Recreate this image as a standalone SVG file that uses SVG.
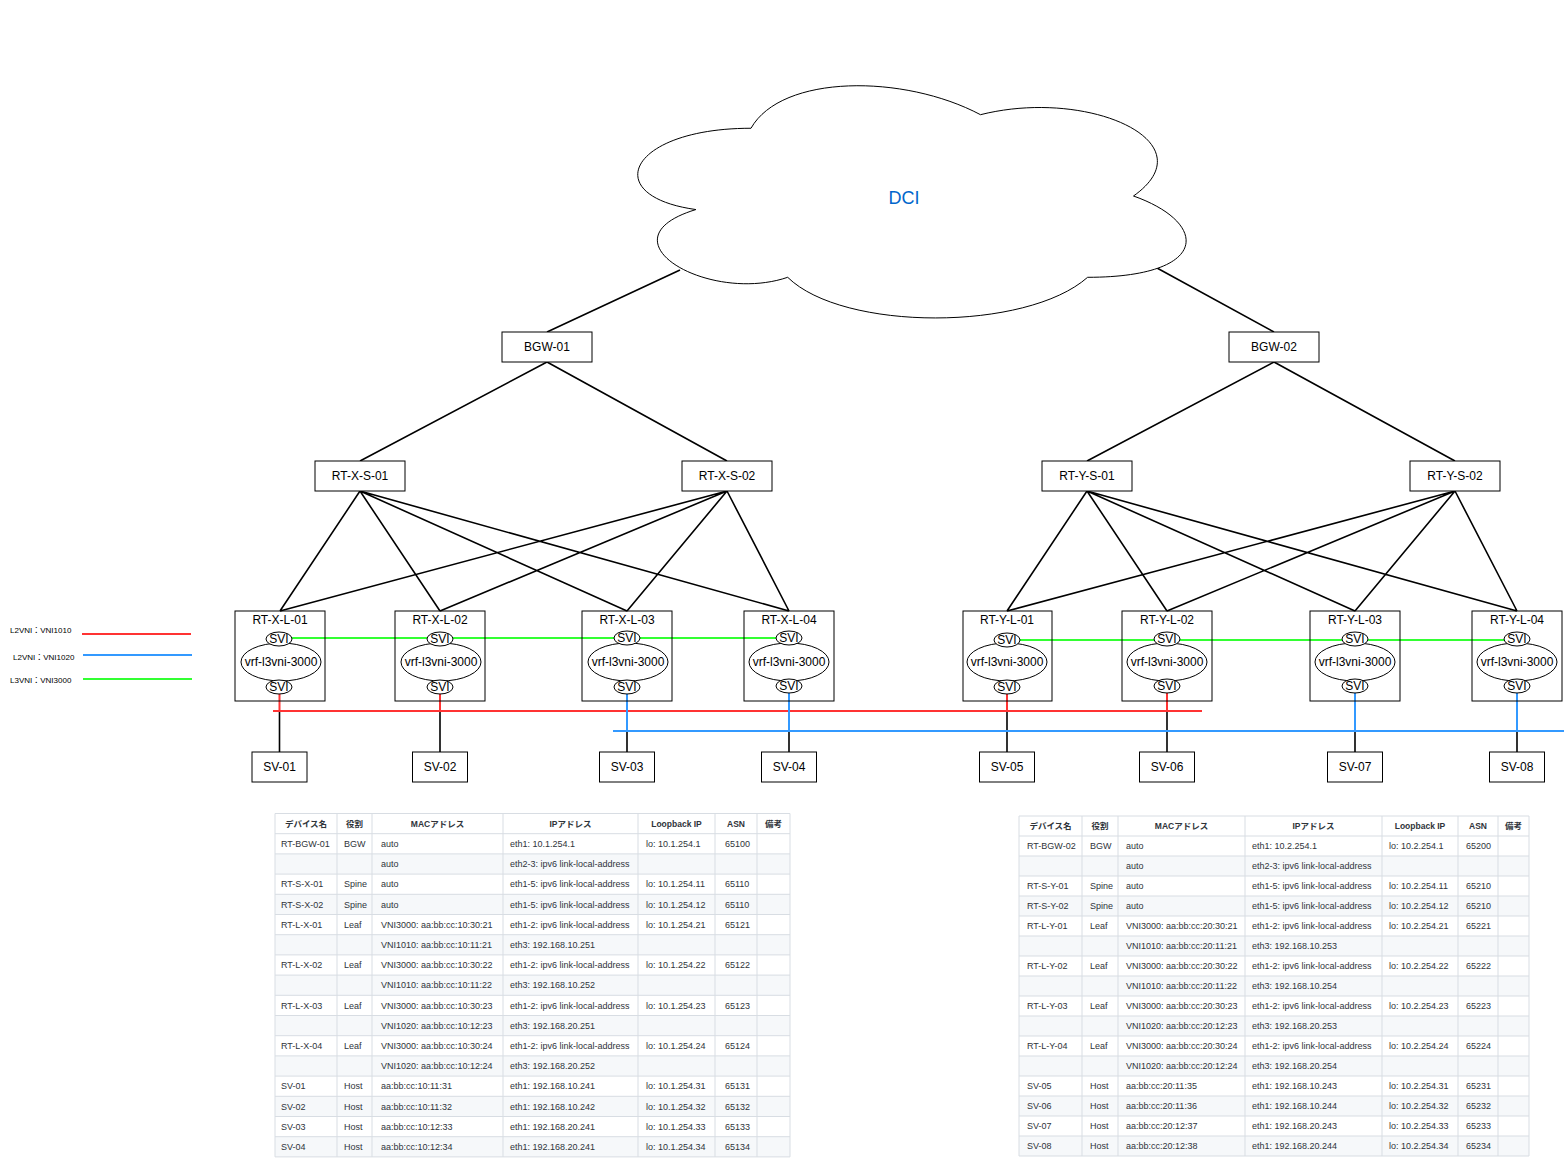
<svg xmlns="http://www.w3.org/2000/svg" width="1564" height="1159" viewBox="0 0 1564 1159">
<style>
text{font-family:"Liberation Sans",Arial,"Noto Sans CJK JP",sans-serif;fill:#000}
.box{fill:#fff;stroke:#000;stroke-width:1}
.leaf{fill:none;stroke:#000;stroke-width:1}
.ell{fill:#fff;stroke:#000;stroke-width:1}
.lbl{font-size:12px;text-anchor:middle}
.edge{stroke:#000;stroke-width:1.6;fill:none}
.red{stroke:#FF3333;stroke-width:2;fill:none}
.blue{stroke:#3399FF;stroke-width:2;fill:none}
.green{stroke:#33FF33;stroke-width:2;fill:none}
.leg{font-size:8px}
.tb text{font-size:9px;fill:#2f343a}
.tb .th{font-weight:bold;text-anchor:middle;font-size:8.5px}
.grid{stroke:#d8dde3;stroke-width:1;fill:none}
.shade{fill:#f6f8fa}
</style>
<rect width="1564" height="1159" fill="#fff"/>

<g id="connectors">
  <path class="edge" d="M680,270 L547,332 M1157,268 L1274,332"/>
  <path class="edge" d="M547,362 L360,461 M547,362 L727,461 M1274,362 L1087,461 M1274,362 L1455,461"/>
  <path class="edge" d="M360,491 L280,611 M360,491 L440,611 M360,491 L627,611 M360,491 L789,611 M727,491 L280,611 M727,491 L440,611 M727,491 L627,611 M727,491 L789,611"/>
  <path class="edge" d="M1087,491 L1007,611 M1087,491 L1167,611 M1087,491 L1355,611 M1087,491 L1517,611 M1455,491 L1007,611 M1455,491 L1167,611 M1455,491 L1355,611 M1455,491 L1517,611"/>
  <path class="green" d="M280,638 L789,638 M1007,640 L1517,640"/>
  <path class="edge" d="M279.5,711 L279.5,752 M440,711 L440,752 M627,731 L627,752 M789,731 L789,752 M1007,711 L1007,752 M1167,711 L1167,752 M1355,731 L1355,752 M1517,731 L1517,752"/>
  <path class="red" d="M279.5,690 L279.5,711 M440,690 L440,711 M1007,690 L1007,711 M1167,690 L1167,711"/>
  <path class="red" d="M273,711 L1202,711"/>
  <path class="blue" d="M627,690 L627,731 M789,690 L789,731 M1355,690 L1355,731 M1517,690 L1517,731"/>
  <path class="blue" d="M613,731 L1564,731"/>
</g>

<g id="dci">
  <path d="M751,128.25 C628.6,128.25 598,196 695.9,209.55 C598,239.4 708.2,304.4 787.7,277.3 C842.8,331.5 1026.4,331.5 1087.6,277.3 C1210,277.3 1210,223.1 1133.5,196 C1210,141.8 1087.6,87.6 980.5,114.7 C904,74.05 781.6,74.05 751,128.25 Z" fill="#fff" stroke="#000" stroke-width="1"/>
  <text x="904" y="204" font-size="18" text-anchor="middle" style="fill:#0066CC">DCI</text>
</g>

<g id="bgw-01"><rect class="box" x="502" y="332" width="90" height="30"/><text class="lbl" x="547" y="351">BGW-01</text></g>
<g id="bgw-02"><rect class="box" x="1229" y="332" width="90" height="30"/><text class="lbl" x="1274" y="351">BGW-02</text></g>

<g id="rt-x-s-01"><rect class="box" x="315" y="461" width="90" height="30"/><text class="lbl" x="360" y="480">RT-X-S-01</text></g>
<g id="rt-x-s-02"><rect class="box" x="682" y="461" width="90" height="30"/><text class="lbl" x="727" y="480">RT-X-S-02</text></g>
<g id="rt-y-s-01"><rect class="box" x="1042" y="461" width="90" height="30"/><text class="lbl" x="1087" y="480">RT-Y-S-01</text></g>
<g id="rt-y-s-02"><rect class="box" x="1410" y="461" width="90" height="30"/><text class="lbl" x="1455" y="480">RT-Y-S-02</text></g>

<g id="rt-x-l-01"><rect class="leaf" x="235" y="611" width="90" height="90"/><text class="lbl" x="280" y="624">RT-X-L-01</text>
  <ellipse class="ell" cx="281" cy="662" rx="40" ry="19"/><text class="lbl" x="281" y="666">vrf-l3vni-3000</text>
  <ellipse class="ell" cx="279" cy="639" rx="13" ry="7"/><text class="lbl" x="279" y="643">SVI</text>
  <ellipse class="ell" cx="279" cy="687" rx="13" ry="7"/><text class="lbl" x="279" y="691">SVI</text></g>
<g id="rt-x-l-02"><rect class="leaf" x="395" y="611" width="90" height="90"/><text class="lbl" x="440" y="624">RT-X-L-02</text>
  <ellipse class="ell" cx="441" cy="662" rx="40" ry="19"/><text class="lbl" x="441" y="666">vrf-l3vni-3000</text>
  <ellipse class="ell" cx="440" cy="639" rx="13" ry="7"/><text class="lbl" x="440" y="643">SVI</text>
  <ellipse class="ell" cx="440" cy="687" rx="13" ry="7"/><text class="lbl" x="440" y="691">SVI</text></g>
<g id="rt-x-l-03"><rect class="leaf" x="582" y="611" width="90" height="90"/><text class="lbl" x="627" y="624">RT-X-L-03</text>
  <ellipse class="ell" cx="628" cy="662" rx="40" ry="19"/><text class="lbl" x="628" y="666">vrf-l3vni-3000</text>
  <ellipse class="ell" cx="627" cy="638" rx="13" ry="7"/><text class="lbl" x="627" y="642">SVI</text>
  <ellipse class="ell" cx="627" cy="687" rx="13" ry="7"/><text class="lbl" x="627" y="691">SVI</text></g>
<g id="rt-x-l-04"><rect class="leaf" x="744" y="611" width="90" height="90"/><text class="lbl" x="789" y="624">RT-X-L-04</text>
  <ellipse class="ell" cx="789" cy="662" rx="40" ry="19"/><text class="lbl" x="789" y="666">vrf-l3vni-3000</text>
  <ellipse class="ell" cx="789" cy="638" rx="13" ry="7"/><text class="lbl" x="789" y="642">SVI</text>
  <ellipse class="ell" cx="789" cy="686" rx="13" ry="7"/><text class="lbl" x="789" y="690">SVI</text></g>
<g id="rt-y-l-01"><rect class="leaf" x="963" y="611" width="89" height="90"/><text class="lbl" x="1007" y="624">RT-Y-L-01</text>
  <ellipse class="ell" cx="1007" cy="662" rx="40" ry="19"/><text class="lbl" x="1007" y="666">vrf-l3vni-3000</text>
  <ellipse class="ell" cx="1007" cy="640" rx="13" ry="7"/><text class="lbl" x="1007" y="644">SVI</text>
  <ellipse class="ell" cx="1007" cy="687" rx="13" ry="7"/><text class="lbl" x="1007" y="691">SVI</text></g>
<g id="rt-y-l-02"><rect class="leaf" x="1122" y="611" width="90" height="90"/><text class="lbl" x="1167" y="624">RT-Y-L-02</text>
  <ellipse class="ell" cx="1167" cy="662" rx="40" ry="19"/><text class="lbl" x="1167" y="666">vrf-l3vni-3000</text>
  <ellipse class="ell" cx="1167" cy="639" rx="13" ry="7"/><text class="lbl" x="1167" y="643">SVI</text>
  <ellipse class="ell" cx="1167" cy="686" rx="13" ry="7"/><text class="lbl" x="1167" y="690">SVI</text></g>
<g id="rt-y-l-03"><rect class="leaf" x="1310" y="611" width="90" height="90"/><text class="lbl" x="1355" y="624">RT-Y-L-03</text>
  <ellipse class="ell" cx="1355" cy="662" rx="40" ry="19"/><text class="lbl" x="1355" y="666">vrf-l3vni-3000</text>
  <ellipse class="ell" cx="1355" cy="639" rx="13" ry="7"/><text class="lbl" x="1355" y="643">SVI</text>
  <ellipse class="ell" cx="1355" cy="686" rx="13" ry="7"/><text class="lbl" x="1355" y="690">SVI</text></g>
<g id="rt-y-l-04"><rect class="leaf" x="1472" y="611" width="90" height="90"/><text class="lbl" x="1517" y="624">RT-Y-L-04</text>
  <ellipse class="ell" cx="1517" cy="662" rx="40" ry="19"/><text class="lbl" x="1517" y="666">vrf-l3vni-3000</text>
  <ellipse class="ell" cx="1517" cy="639" rx="13" ry="7"/><text class="lbl" x="1517" y="643">SVI</text>
  <ellipse class="ell" cx="1517" cy="686" rx="13" ry="7"/><text class="lbl" x="1517" y="690">SVI</text></g>

<g id="sv-01"><rect class="box" x="252" y="752" width="55" height="30"/><text class="lbl" x="279.5" y="771">SV-01</text></g>
<g id="sv-02"><rect class="box" x="412.5" y="752" width="55" height="30"/><text class="lbl" x="440" y="771">SV-02</text></g>
<g id="sv-03"><rect class="box" x="599.5" y="752" width="55" height="30"/><text class="lbl" x="627" y="771">SV-03</text></g>
<g id="sv-04"><rect class="box" x="761.5" y="752" width="55" height="30"/><text class="lbl" x="789" y="771">SV-04</text></g>
<g id="sv-05"><rect class="box" x="979.5" y="752" width="55" height="30"/><text class="lbl" x="1007" y="771">SV-05</text></g>
<g id="sv-06"><rect class="box" x="1139.5" y="752" width="55" height="30"/><text class="lbl" x="1167" y="771">SV-06</text></g>
<g id="sv-07"><rect class="box" x="1327.5" y="752" width="55" height="30"/><text class="lbl" x="1355" y="771">SV-07</text></g>
<g id="sv-08"><rect class="box" x="1489.5" y="752" width="55" height="30"/><text class="lbl" x="1517" y="771">SV-08</text></g>

<g id="legend">
  <text class="leg" x="10" y="633">L2VNI：VNI1010</text>
  <path class="red" d="M82,634 L191,634"/>
  <text class="leg" x="13" y="660">L2VNI：VNI1020</text>
  <path class="blue" d="M83,655 L192,655"/>
  <text class="leg" x="10" y="683">L3VNI：VNI3000</text>
  <path class="green" d="M83,679 L192,679"/>
</g>

<g id="table-x" class="tb">
  <rect class="shade" x="275" y="853.9" width="515" height="20.2"/>
  <rect class="shade" x="275" y="894.3" width="515" height="20.2"/>
  <rect class="shade" x="275" y="934.7" width="515" height="20.2"/>
  <rect class="shade" x="275" y="975.1" width="515" height="20.2"/>
  <rect class="shade" x="275" y="1015.5" width="515" height="20.2"/>
  <rect class="shade" x="275" y="1055.9" width="515" height="20.2"/>
  <rect class="shade" x="275" y="1096.3" width="515" height="20.2"/>
  <rect class="shade" x="275" y="1136.7" width="515" height="20.2"/>
  <path class="grid" d="M275,813.5 H790 M275,833.7 H790 M275,853.9 H790 M275,874.1 H790 M275,894.3 H790 M275,914.5 H790 M275,934.7 H790 M275,954.9 H790 M275,975.1 H790 M275,995.3 H790 M275,1015.5 H790 M275,1035.7 H790 M275,1055.9 H790 M275,1076.1 H790 M275,1096.3 H790 M275,1116.5 H790 M275,1136.7 H790 M275,1156.9 H790 M275,813.5 V1156.9 M337,813.5 V1156.9 M372,813.5 V1156.9 M503,813.5 V1156.9 M638,813.5 V1156.9 M715,813.5 V1156.9 M757,813.5 V1156.9 M790,813.5 V1156.9"/>
  <text class="th" y="826.6"><tspan x="306">デバイス名</tspan><tspan x="354.5">役割</tspan><tspan x="437.5">MACアドレス</tspan><tspan x="570.5">IPアドレス</tspan><tspan x="676.5">Loopback IP</tspan><tspan x="736">ASN</tspan><tspan x="773.5">備考</tspan></text>
  <text y="847"><tspan x="281">RT-BGW-01</tspan><tspan x="344">BGW</tspan><tspan x="381">auto</tspan><tspan x="510">eth1: 10.1.254.1</tspan><tspan x="646">lo: 10.1.254.1</tspan><tspan x="725">65100</tspan></text>
  <text y="867.2"><tspan x="381">auto</tspan><tspan x="510">eth2-3: ipv6 link-local-address</tspan></text>
  <text y="887.4"><tspan x="281">RT-S-X-01</tspan><tspan x="344">Spine</tspan><tspan x="381">auto</tspan><tspan x="510">eth1-5: ipv6 link-local-address</tspan><tspan x="646">lo: 10.1.254.11</tspan><tspan x="725">65110</tspan></text>
  <text y="907.6"><tspan x="281">RT-S-X-02</tspan><tspan x="344">Spine</tspan><tspan x="381">auto</tspan><tspan x="510">eth1-5: ipv6 link-local-address</tspan><tspan x="646">lo: 10.1.254.12</tspan><tspan x="725">65110</tspan></text>
  <text y="927.8"><tspan x="281">RT-L-X-01</tspan><tspan x="344">Leaf</tspan><tspan x="381">VNI3000: aa:bb:cc:10:30:21</tspan><tspan x="510">eth1-2: ipv6 link-local-address</tspan><tspan x="646">lo: 10.1.254.21</tspan><tspan x="725">65121</tspan></text>
  <text y="948"><tspan x="381">VNI1010: aa:bb:cc:10:11:21</tspan><tspan x="510">eth3: 192.168.10.251</tspan></text>
  <text y="968.2"><tspan x="281">RT-L-X-02</tspan><tspan x="344">Leaf</tspan><tspan x="381">VNI3000: aa:bb:cc:10:30:22</tspan><tspan x="510">eth1-2: ipv6 link-local-address</tspan><tspan x="646">lo: 10.1.254.22</tspan><tspan x="725">65122</tspan></text>
  <text y="988.4"><tspan x="381">VNI1010: aa:bb:cc:10:11:22</tspan><tspan x="510">eth3: 192.168.10.252</tspan></text>
  <text y="1008.6"><tspan x="281">RT-L-X-03</tspan><tspan x="344">Leaf</tspan><tspan x="381">VNI3000: aa:bb:cc:10:30:23</tspan><tspan x="510">eth1-2: ipv6 link-local-address</tspan><tspan x="646">lo: 10.1.254.23</tspan><tspan x="725">65123</tspan></text>
  <text y="1028.8"><tspan x="381">VNI1020: aa:bb:cc:10:12:23</tspan><tspan x="510">eth3: 192.168.20.251</tspan></text>
  <text y="1049"><tspan x="281">RT-L-X-04</tspan><tspan x="344">Leaf</tspan><tspan x="381">VNI3000: aa:bb:cc:10:30:24</tspan><tspan x="510">eth1-2: ipv6 link-local-address</tspan><tspan x="646">lo: 10.1.254.24</tspan><tspan x="725">65124</tspan></text>
  <text y="1069.2"><tspan x="381">VNI1020: aa:bb:cc:10:12:24</tspan><tspan x="510">eth3: 192.168.20.252</tspan></text>
  <text y="1089.4"><tspan x="281">SV-01</tspan><tspan x="344">Host</tspan><tspan x="381">aa:bb:cc:10:11:31</tspan><tspan x="510">eth1: 192.168.10.241</tspan><tspan x="646">lo: 10.1.254.31</tspan><tspan x="725">65131</tspan></text>
  <text y="1109.6"><tspan x="281">SV-02</tspan><tspan x="344">Host</tspan><tspan x="381">aa:bb:cc:10:11:32</tspan><tspan x="510">eth1: 192.168.10.242</tspan><tspan x="646">lo: 10.1.254.32</tspan><tspan x="725">65132</tspan></text>
  <text y="1129.8"><tspan x="281">SV-03</tspan><tspan x="344">Host</tspan><tspan x="381">aa:bb:cc:10:12:33</tspan><tspan x="510">eth1: 192.168.20.241</tspan><tspan x="646">lo: 10.1.254.33</tspan><tspan x="725">65133</tspan></text>
  <text y="1150"><tspan x="281">SV-04</tspan><tspan x="344">Host</tspan><tspan x="381">aa:bb:cc:10:12:34</tspan><tspan x="510">eth1: 192.168.20.241</tspan><tspan x="646">lo: 10.1.254.34</tspan><tspan x="725">65134</tspan></text>
</g>

<g id="table-y" class="tb">
  <rect class="shade" x="1019" y="856" width="510" height="20"/>
  <rect class="shade" x="1019" y="896" width="510" height="20"/>
  <rect class="shade" x="1019" y="936" width="510" height="20"/>
  <rect class="shade" x="1019" y="976" width="510" height="20"/>
  <rect class="shade" x="1019" y="1016" width="510" height="20"/>
  <rect class="shade" x="1019" y="1056" width="510" height="20"/>
  <rect class="shade" x="1019" y="1096" width="510" height="20"/>
  <rect class="shade" x="1019" y="1136" width="510" height="20"/>
  <path class="grid" d="M1019,816 H1529 M1019,836 H1529 M1019,856 H1529 M1019,876 H1529 M1019,896 H1529 M1019,916 H1529 M1019,936 H1529 M1019,956 H1529 M1019,976 H1529 M1019,996 H1529 M1019,1016 H1529 M1019,1036 H1529 M1019,1056 H1529 M1019,1076 H1529 M1019,1096 H1529 M1019,1116 H1529 M1019,1136 H1529 M1019,1156 H1529 M1019,816 V1156 M1082,816 V1156 M1118,816 V1156 M1245,816 V1156 M1382,816 V1156 M1458,816 V1156 M1498,816 V1156 M1529,816 V1156"/>
  <text class="th" y="829"><tspan x="1050.5">デバイス名</tspan><tspan x="1100">役割</tspan><tspan x="1181.5">MACアドレス</tspan><tspan x="1313.5">IPアドレス</tspan><tspan x="1420">Loopback IP</tspan><tspan x="1478">ASN</tspan><tspan x="1513.5">備考</tspan></text>
  <text y="849.2"><tspan x="1027">RT-BGW-02</tspan><tspan x="1090">BGW</tspan><tspan x="1126">auto</tspan><tspan x="1252">eth1: 10.2.254.1</tspan><tspan x="1389">lo: 10.2.254.1</tspan><tspan x="1466">65200</tspan></text>
  <text y="869.2"><tspan x="1126">auto</tspan><tspan x="1252">eth2-3: ipv6 link-local-address</tspan></text>
  <text y="889.2"><tspan x="1027">RT-S-Y-01</tspan><tspan x="1090">Spine</tspan><tspan x="1126">auto</tspan><tspan x="1252">eth1-5: ipv6 link-local-address</tspan><tspan x="1389">lo: 10.2.254.11</tspan><tspan x="1466">65210</tspan></text>
  <text y="909.2"><tspan x="1027">RT-S-Y-02</tspan><tspan x="1090">Spine</tspan><tspan x="1126">auto</tspan><tspan x="1252">eth1-5: ipv6 link-local-address</tspan><tspan x="1389">lo: 10.2.254.12</tspan><tspan x="1466">65210</tspan></text>
  <text y="929.2"><tspan x="1027">RT-L-Y-01</tspan><tspan x="1090">Leaf</tspan><tspan x="1126">VNI3000: aa:bb:cc:20:30:21</tspan><tspan x="1252">eth1-2: ipv6 link-local-address</tspan><tspan x="1389">lo: 10.2.254.21</tspan><tspan x="1466">65221</tspan></text>
  <text y="949.2"><tspan x="1126">VNI1010: aa:bb:cc:20:11:21</tspan><tspan x="1252">eth3: 192.168.10.253</tspan></text>
  <text y="969.2"><tspan x="1027">RT-L-Y-02</tspan><tspan x="1090">Leaf</tspan><tspan x="1126">VNI3000: aa:bb:cc:20:30:22</tspan><tspan x="1252">eth1-2: ipv6 link-local-address</tspan><tspan x="1389">lo: 10.2.254.22</tspan><tspan x="1466">65222</tspan></text>
  <text y="989.2"><tspan x="1126">VNI1010: aa:bb:cc:20:11:22</tspan><tspan x="1252">eth3: 192.168.10.254</tspan></text>
  <text y="1009.2"><tspan x="1027">RT-L-Y-03</tspan><tspan x="1090">Leaf</tspan><tspan x="1126">VNI3000: aa:bb:cc:20:30:23</tspan><tspan x="1252">eth1-2: ipv6 link-local-address</tspan><tspan x="1389">lo: 10.2.254.23</tspan><tspan x="1466">65223</tspan></text>
  <text y="1029.2"><tspan x="1126">VNI1020: aa:bb:cc:20:12:23</tspan><tspan x="1252">eth3: 192.168.20.253</tspan></text>
  <text y="1049.2"><tspan x="1027">RT-L-Y-04</tspan><tspan x="1090">Leaf</tspan><tspan x="1126">VNI3000: aa:bb:cc:20:30:24</tspan><tspan x="1252">eth1-2: ipv6 link-local-address</tspan><tspan x="1389">lo: 10.2.254.24</tspan><tspan x="1466">65224</tspan></text>
  <text y="1069.2"><tspan x="1126">VNI1020: aa:bb:cc:20:12:24</tspan><tspan x="1252">eth3: 192.168.20.254</tspan></text>
  <text y="1089.2"><tspan x="1027">SV-05</tspan><tspan x="1090">Host</tspan><tspan x="1126">aa:bb:cc:20:11:35</tspan><tspan x="1252">eth1: 192.168.10.243</tspan><tspan x="1389">lo: 10.2.254.31</tspan><tspan x="1466">65231</tspan></text>
  <text y="1109.2"><tspan x="1027">SV-06</tspan><tspan x="1090">Host</tspan><tspan x="1126">aa:bb:cc:20:11:36</tspan><tspan x="1252">eth1: 192.168.10.244</tspan><tspan x="1389">lo: 10.2.254.32</tspan><tspan x="1466">65232</tspan></text>
  <text y="1129.2"><tspan x="1027">SV-07</tspan><tspan x="1090">Host</tspan><tspan x="1126">aa:bb:cc:20:12:37</tspan><tspan x="1252">eth1: 192.168.20.243</tspan><tspan x="1389">lo: 10.2.254.33</tspan><tspan x="1466">65233</tspan></text>
  <text y="1149.2"><tspan x="1027">SV-08</tspan><tspan x="1090">Host</tspan><tspan x="1126">aa:bb:cc:20:12:38</tspan><tspan x="1252">eth1: 192.168.20.244</tspan><tspan x="1389">lo: 10.2.254.34</tspan><tspan x="1466">65234</tspan></text>
</g>
</svg>
